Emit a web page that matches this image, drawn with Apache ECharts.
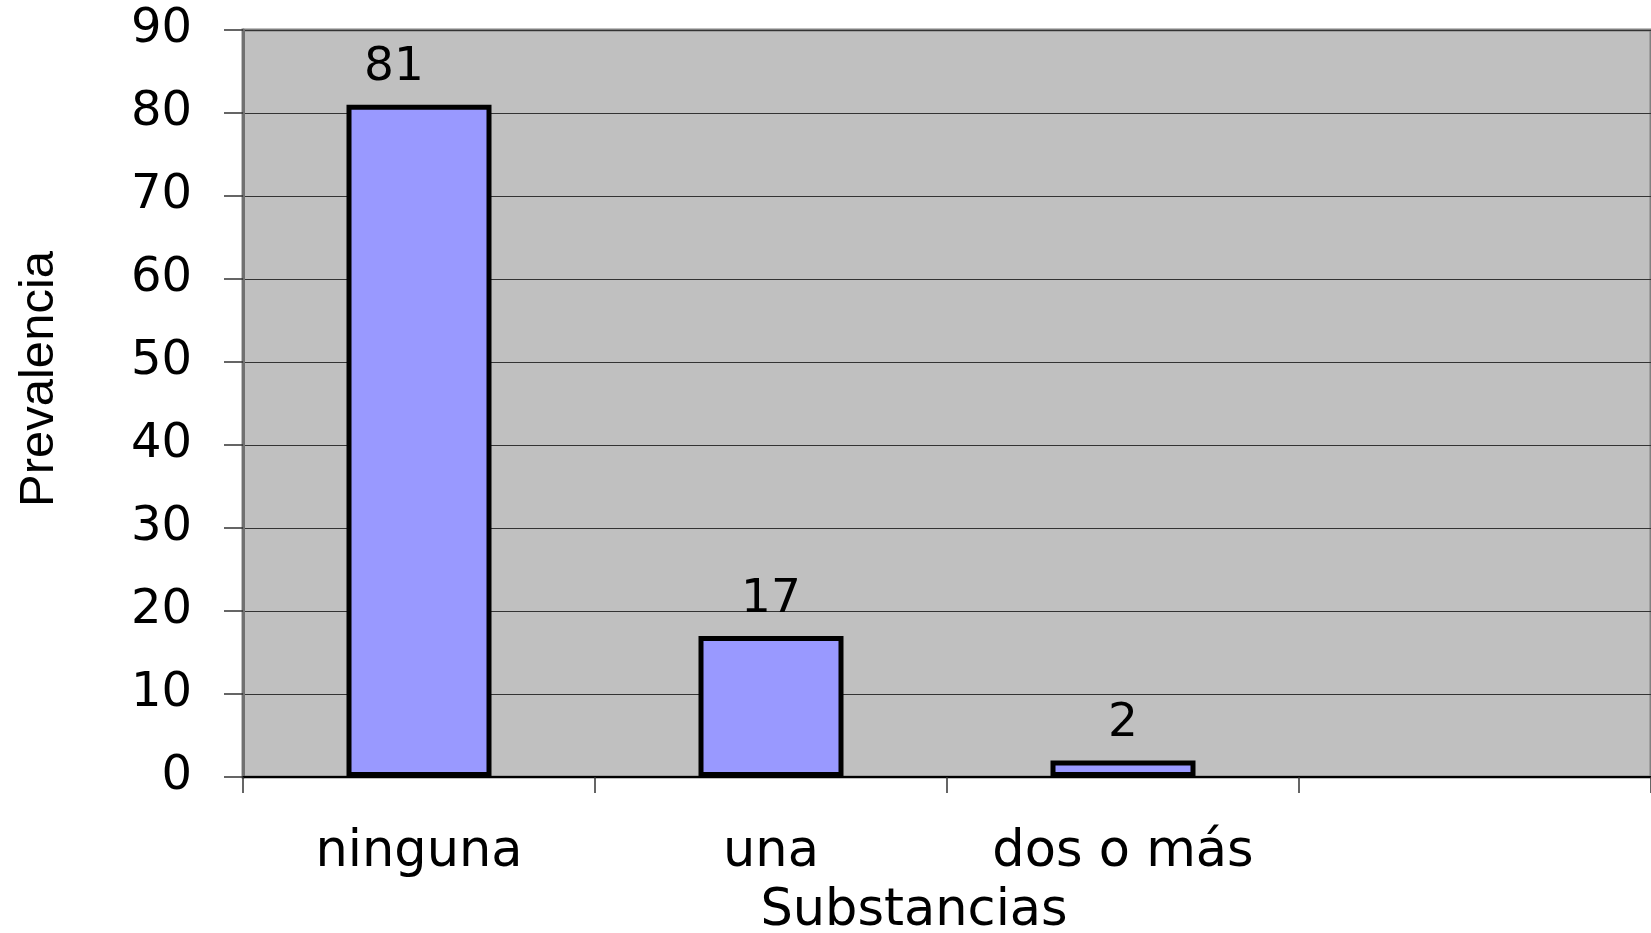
<!DOCTYPE html>
<html>
<head>
<meta charset="utf-8">
<script src="https://cdn.jsdelivr.net/npm/echarts@6/dist/echarts.min.js"></script>
<style>
  html, body { margin: 0; padding: 0; background: #fff; }
  #chart { width: 1651px; height: 933px; }
</style>
</head>
<body>
<div id="chart"></div>
<script>
// datos del grafico
var categorias = ["ninguna", "una", "dos o más", ""];
var prevalencia = [81, 17, 2, null];
var ejeYMax = 90;
var ejeYIntervalo = 10;

var myChart = echarts.init(document.getElementById("chart"));

// la etiqueta de la primera barra esta corrida a la izquierda en el original
var datosBarras = prevalencia.map(function (v, i) {
  if (i === 0) {
    return { value: v, label: { offset: [-25, 0] } };
  }
  return v;
});

var option = {
  animation: false,
  grid: {
    left: 243,
    top: 30,
    width: 1412,
    height: 747,
    show: true,
    backgroundColor: "#C0C0C0",
    borderColor: "#808080",
    borderWidth: 3
  },
  xAxis: {
    type: "category",
    data: categorias,
    boundaryGap: true,
    axisLine: { show: true, lineStyle: { color: "#000", width: 2 } },
    axisTick: { show: true, length: 16, lineStyle: { color: "#333", width: 1.5 } },
    axisLabel: {
      margin: 50,
      color: "#000",
      fontSize: 51,
      fontFamily: "DejaVu Sans"
    }
  },
  yAxis: {
    type: "value",
    min: 0,
    max: ejeYMax,
    interval: ejeYIntervalo,
    axisLine: { show: true, lineStyle: { color: "#707070", width: 3 } },
    axisTick: { show: true, length: 19, lineStyle: { color: "#333", width: 1.5 } },
    splitLine: { show: true, lineStyle: { color: "#333", width: 1 } },
    axisLabel: {
      margin: 51,
      color: "#000",
      fontSize: 48,
      fontFamily: "DejaVu Sans"
    }
  },
  series: [
    {
      type: "bar",
      data: datosBarras,
      barWidth: 145,
      itemStyle: {
        color: "#9999FF",
        borderColor: "#000",
        borderWidth: 5
      },
      label: {
        show: true,
        position: "top",
        distance: 13,
        color: "#000",
        fontSize: 47,
        fontFamily: "DejaVu Sans"
      }
    }
  ],
  graphic: [
    {
      type: "text",
      x: 914,
      y: 912,
      style: {
        text: "Substancias",
        fill: "#000",
        font: "51px 'DejaVu Sans'",
        align: "center",
        verticalAlign: "middle"
      }
    },
    {
      type: "text",
      x: 39,
      y: 379,
      rotation: Math.PI / 2,
      style: {
        text: "Prevalencia",
        fill: "#000",
        font: "49px 'Liberation Sans'",
        align: "center",
        verticalAlign: "middle"
      }
    }
  ]
};
myChart.setOption(option);
</script>
</body>
</html>
